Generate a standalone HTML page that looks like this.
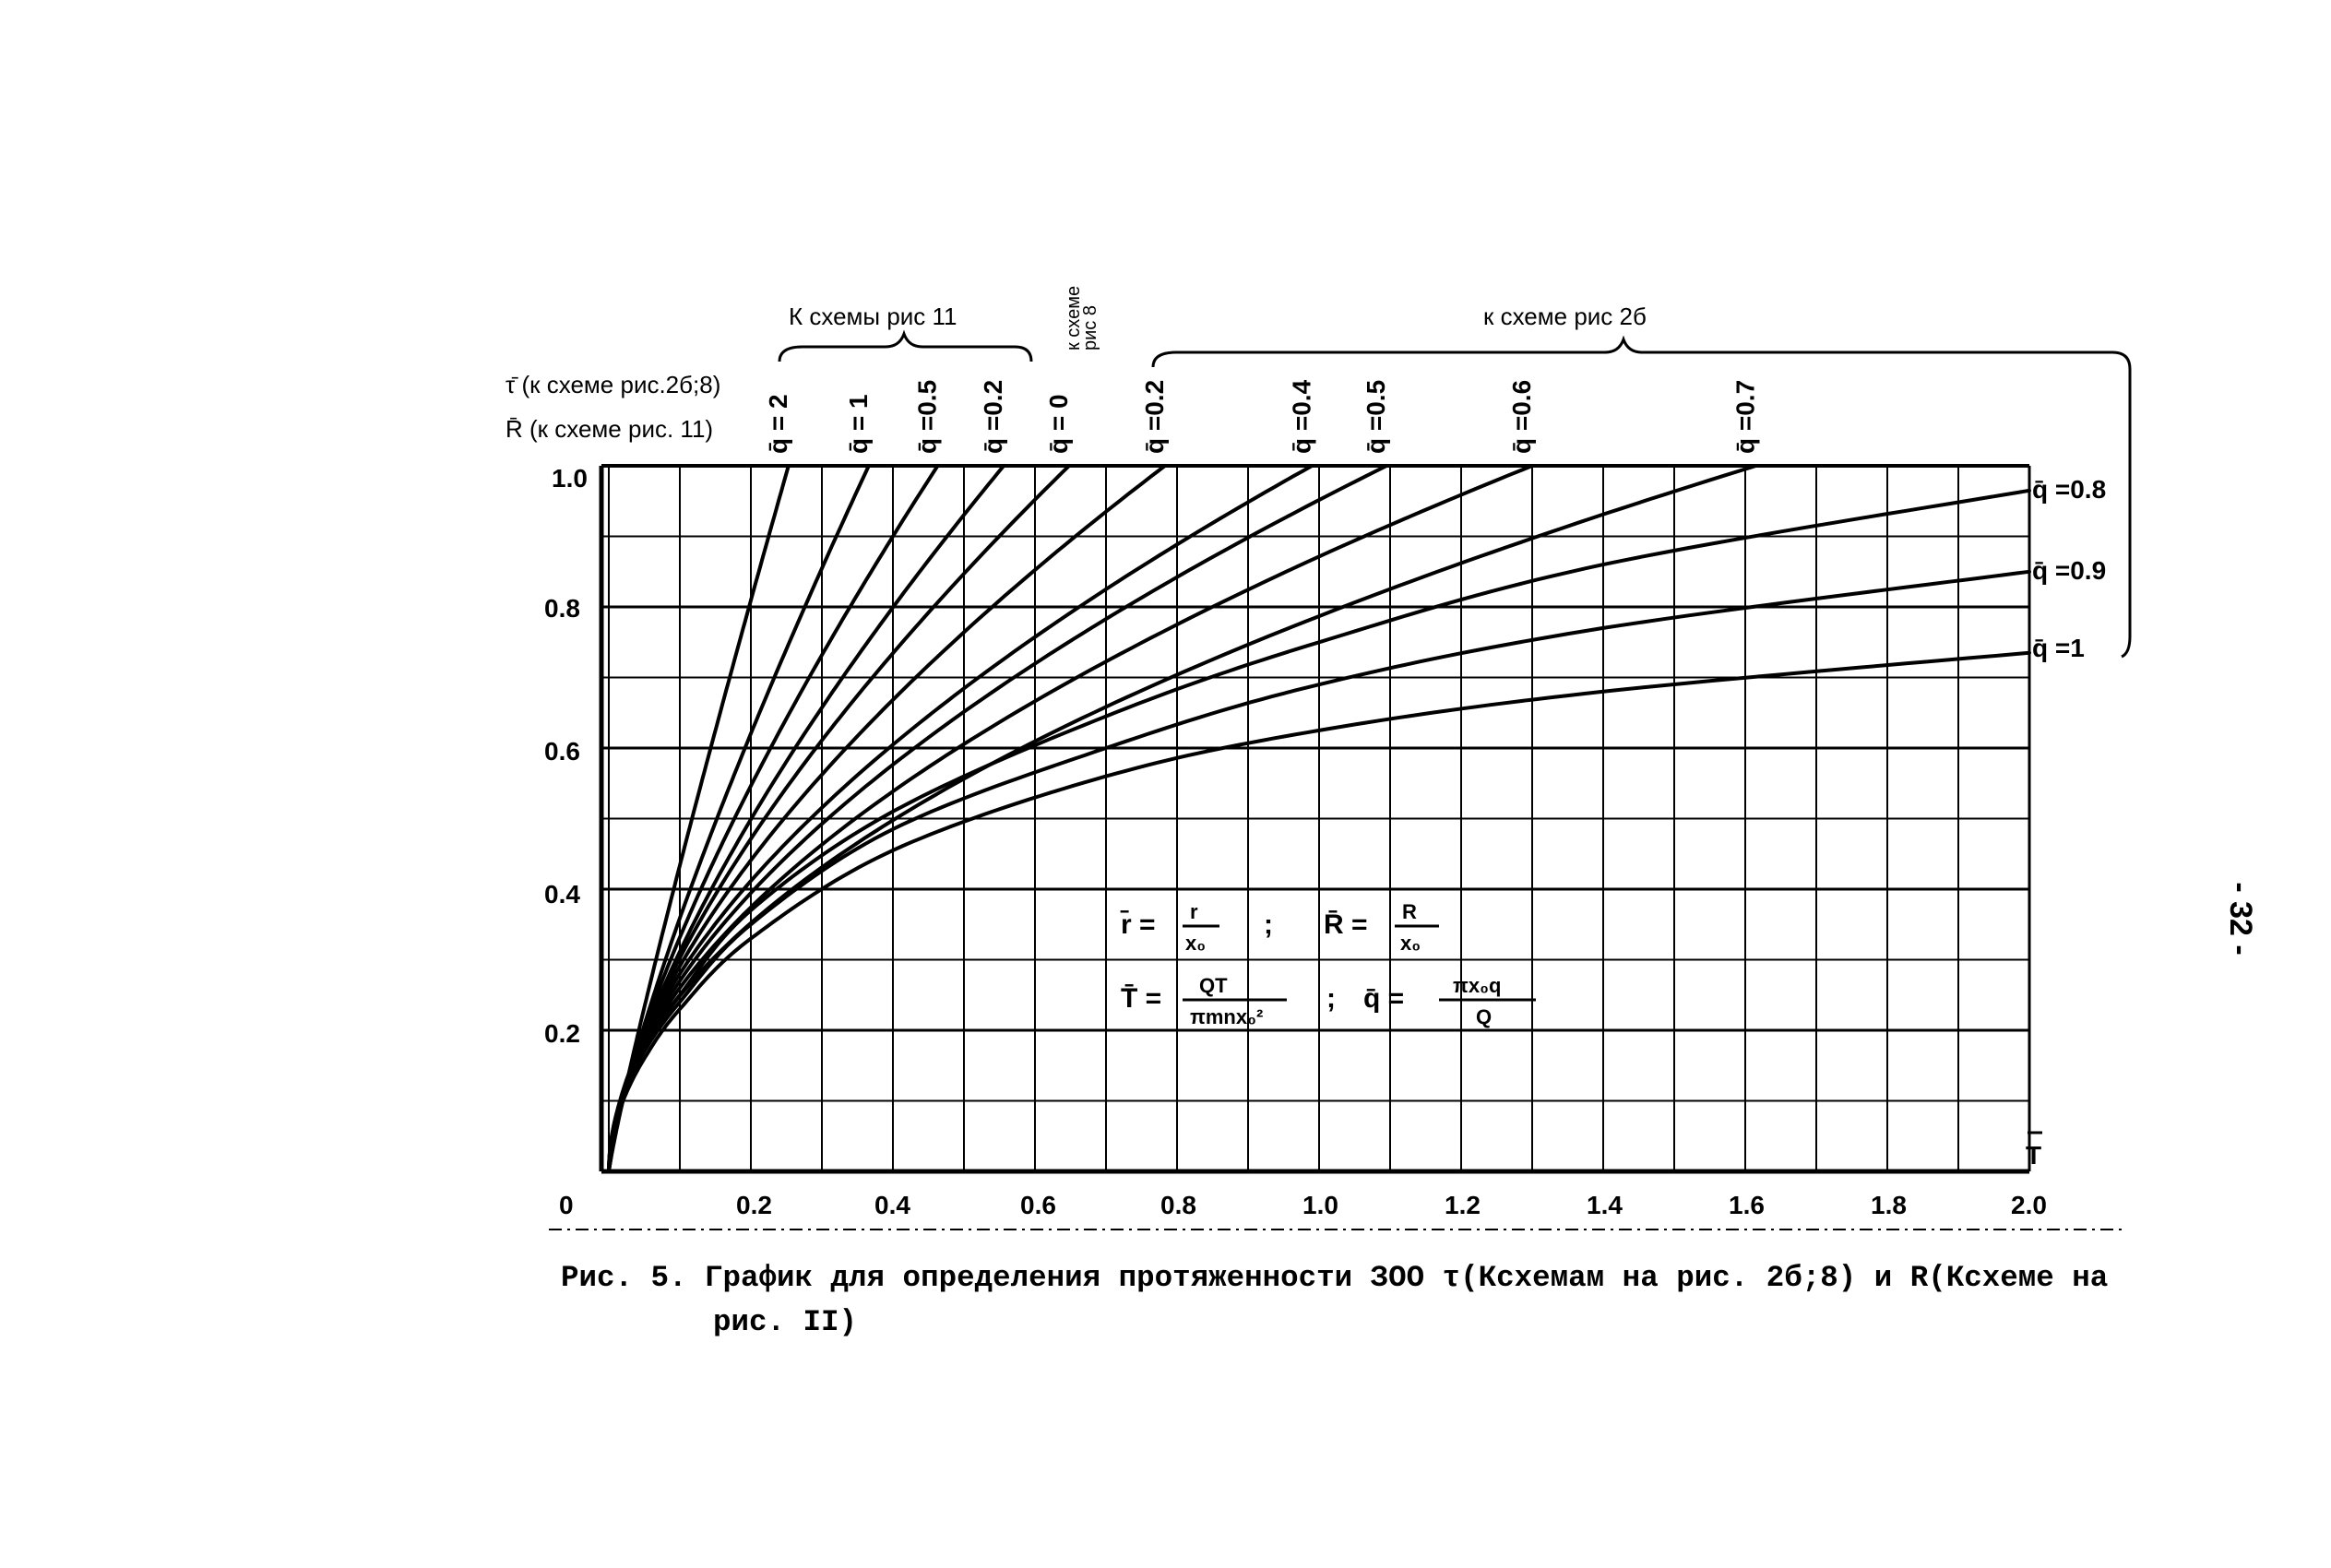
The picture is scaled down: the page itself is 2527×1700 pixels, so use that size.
<!DOCTYPE html>
<html><head><meta charset="utf-8"><style>
html,body{margin:0;padding:0;background:#fff;}
svg{display:block;}
text{font-family:"Liberation Sans","DejaVu Sans",sans-serif;fill:#000;}
.t{font-weight:bold;font-size:28px;}
.m{font-family:"Liberation Mono","DejaVu Sans Mono",monospace;font-size:32.5px;font-weight:bold;}
.h{font-size:26px;}
</style></head><body>
<svg id="s" width="2527" height="1700" viewBox="0 0 2527 1700" xmlns="http://www.w3.org/2000/svg">
<g id="grid" stroke="#000" fill="none"></g>
<g id="curves" stroke="#000" stroke-width="4" fill="none" stroke-linecap="round"></g>
<g class="t">
<text x="606" y="1316">0</text>
<text x="798" y="1316">0.2</text>
<text x="948" y="1316">0.4</text>
<text x="1106" y="1316">0.6</text>
<text x="1258" y="1316">0.8</text>
<text x="1412" y="1316">1.0</text>
<text x="1566" y="1316">1.2</text>
<text x="1720" y="1316">1.4</text>
<text x="1874" y="1316">1.6</text>
<text x="2028" y="1316">1.8</text>
<text x="2180" y="1316">2.0</text>
<text x="590" y="1130">0.2</text>
<text x="590" y="979">0.4</text>
<text x="590" y="824">0.6</text>
<text x="590" y="669">0.8</text>
<text x="598" y="528">1.0</text>
</g>
<line x1="595" y1="1333" x2="2300" y2="1333" stroke="#000" stroke-width="2" stroke-dasharray="14 6 3 6"/>
<g class="t">
<text x="2196" y="1262">T</text><line x1="2198" y1="1228" x2="2214" y2="1228" stroke="#000" stroke-width="3"/>
</g>
<text class="m" x="608" y="1394">Рис. 5. График для определения протяженности ЗОО τ(Ксхемам на рис. 2б;8) и R(Ксхеме на</text>
<text class="m" x="773" y="1442">рис. II)</text>
<text x="2418" y="996" font-size="34" font-weight="bold" transform="rotate(90 2418 996)" text-anchor="middle">- 32 -</text>
<g class="h">
<text x="548" y="426">τ̄ (к схеме рис.2б;8)</text>
<text x="548" y="474">R̄ (к схеме рис. 11)</text>
<text x="855" y="352">К схемы рис 11</text>
<text x="1608" y="352">к схеме  рис 2б</text>
</g>
<path d="M845 392 Q845 376 870 376 L960 376 Q975 376 980 362 Q985 376 1000 376 L1100 376 Q1118 376 1118 392" stroke="#000" stroke-width="3" fill="none"/>
<path d="M1250 398 Q1250 382 1275 382 L1740 382 Q1755 382 1760 368 Q1765 382 1780 382 L2290 382 Q2309 382 2309 400 L2309 690 Q2309 708 2300 712" stroke="#000" stroke-width="3" fill="none"/>
<text x="1170" y="380" font-size="20" transform="rotate(-90 1170 380)">к схеме</text>
<text x="1188" y="380" font-size="20" transform="rotate(-90 1188 380)">рис 8</text>
<g id="ql" class="t" font-size="24"></g>
<g class="t" font-size="26">
<text x="2203" y="540">q̄ =0.8</text>
<text x="2203" y="628">q̄ =0.9</text>
<text x="2203" y="712">q̄ =1</text>
</g>
<g font-size="30" font-weight="bold">
<text x="1215" y="1012">r̄ =</text>
<text x="1290" y="996" font-size="22">r</text><line x1="1282" y1="1004" x2="1322" y2="1004" stroke="#000" stroke-width="3"/><text x="1285" y="1030" font-size="22">x₀</text>
<text x="1370" y="1012">;</text>
<text x="1435" y="1012">R̄ =</text>
<text x="1520" y="996" font-size="22">R</text><line x1="1512" y1="1004" x2="1560" y2="1004" stroke="#000" stroke-width="3"/><text x="1518" y="1030" font-size="22">x₀</text>
<text x="1215" y="1092">T̄ =</text>
<text x="1300" y="1076" font-size="22">QT</text><line x1="1282" y1="1084" x2="1395" y2="1084" stroke="#000" stroke-width="3"/><text x="1290" y="1110" font-size="22">πmnx₀²</text>
<text x="1438" y="1092">;</text>
<text x="1478" y="1092">q̄ =</text>
<text x="1575" y="1076" font-size="22">πx₀q</text><line x1="1560" y1="1084" x2="1665" y2="1084" stroke="#000" stroke-width="3"/><text x="1600" y="1110" font-size="22">Q</text>
</g>
</svg>
<script>
function X(t){return 660+t*770;} function Y(r){return 1270-r*765;}
var g=document.getElementById('grid'),h='';
for(var i=0;i<=20;i++){var x=X(i*0.1);h+='<line x1="'+x+'" y1="'+Y(1)+'" x2="'+x+'" y2="'+Y(0)+'" stroke-width="'+(i==20?3:2)+'"/>';}
for(var j=0;j<=10;j++){var y=Y(j*0.1);h+='<line x1="652" y1="'+y+'" x2="'+X(2)+'" y2="'+y+'" stroke-width="'+(j%2==0?3:2)+'"/>';}
h+='<line x1="652" y1="'+Y(1)+'" x2="652" y2="'+Y(0)+'" stroke-width="5"/>';
h+='<line x1="652" y1="'+Y(0)+'" x2="'+X(2)+'" y2="'+Y(0)+'" stroke-width="5"/>';
h+='<line x1="652" y1="'+Y(1)+'" x2="'+X(2)+'" y2="'+Y(1)+'" stroke-width="4"/>';
g.innerHTML=h;
var c=document.getElementById('curves'),ch='';
function path(pts){var d='M'+pts[0][0].toFixed(1)+' '+pts[0][1].toFixed(1);for(var k=1;k<pts.length;k++)d+=' L'+pts[k][0].toFixed(1)+' '+pts[k][1].toFixed(1);return '<path d="'+d+'"/>';}
var pw=[[0.253,0.9],[0.366,0.79],[0.463,0.72],[0.556,0.68],[0.648,0.64],[0.783,0.60],[0.99,0.555],[1.095,0.547],[1.3,0.525],[1.615,0.5]];
pw.forEach(function(p){var pts=[];for(var k=0;k<=120;k++){var t=p[0]*Math.pow(k/120,1.6);var r=Math.pow(t/p[0],p[1]);pts.push([X(t),Y(r)]);}ch+=path(pts);});
var lows=[
[[0,0],[0.01,0.07],[0.02,0.11],[0.05,0.18],[0.1,0.25],[0.2,0.37],[0.4,0.51],[0.7,0.645],[1.0,0.75],[1.4,0.86],[2.0,0.965]],
[[0,0],[0.01,0.065],[0.02,0.105],[0.05,0.17],[0.1,0.24],[0.2,0.35],[0.4,0.485],[0.7,0.6],[1.0,0.69],[1.4,0.77],[2.0,0.85]],
[[0,0],[0.01,0.06],[0.02,0.1],[0.05,0.16],[0.1,0.23],[0.2,0.33],[0.4,0.455],[0.7,0.56],[1.0,0.625],[1.4,0.68],[2.0,0.735]]];
function cr(P){var out=[];for(var i=0;i<P.length-1;i++){var p0=P[Math.max(i-1,0)],p1=P[i],p2=P[i+1],p3=P[Math.min(i+2,P.length-1)];for(var s=0;s<20;s++){var u=s/20,u2=u*u,u3=u2*u;var f=function(a,b,c2,d){return 0.5*((2*b)+(-a+c2)*u+(2*a-5*b+4*c2-d)*u2+(-a+3*b-3*c2+d)*u3);};out.push([X(f(p0[0],p1[0],p2[0],p3[0])),Y(f(p0[1],p1[1],p2[1],p3[1]))]);}}out.push([X(P[P.length-1][0]),Y(P[P.length-1][1])]);return out;}
lows.forEach(function(P){ch+=path(cr(P));});
c.innerHTML=ch;
var ql=document.getElementById('ql'),qh='';
var labs=[[0.253,'q̄ = 2'],[0.366,'q̄ = 1'],[0.463,'q̄ =0.5'],[0.556,'q̄ =0.2'],[0.648,'q̄ = 0'],[0.783,'q̄ =0.2'],[0.99,'q̄ =0.4'],[1.095,'q̄ =0.5'],[1.3,'q̄ =0.6'],[1.615,'q̄ =0.7']];
labs.forEach(function(l){var x=X(l[0])-2,y=492;qh+='<text x="'+x+'" y="'+y+'" transform="rotate(-90 '+x+' '+y+')">'+l[1]+'</text>';});
ql.innerHTML=qh;
</script>
</body></html>
